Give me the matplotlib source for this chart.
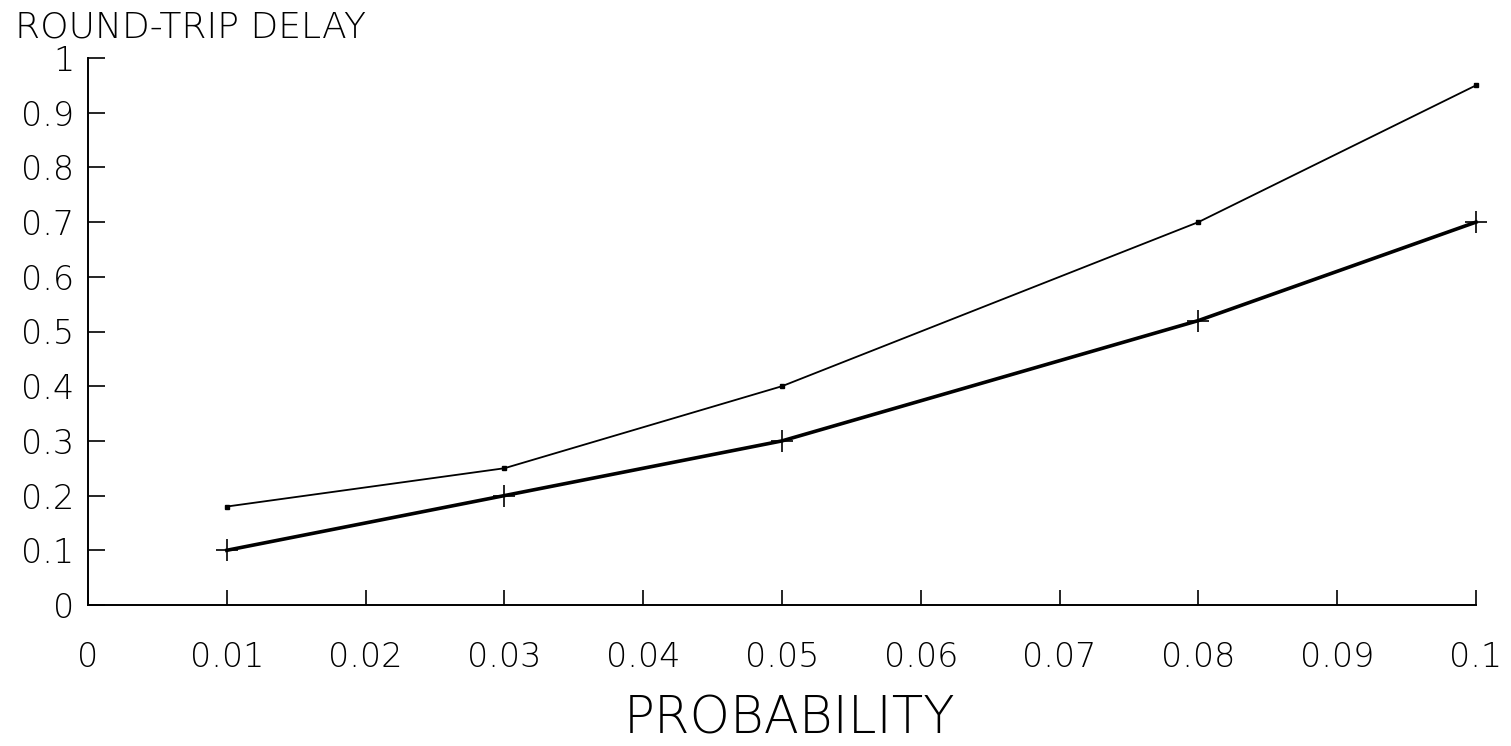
import matplotlib
matplotlib.use("Agg")
import matplotlib.pyplot as plt

# Data
probability = [0.01, 0.03, 0.05, 0.08, 0.10]
delay_upper = [0.18, 0.25, 0.40, 0.70, 0.95]
delay_lower = [0.10, 0.20, 0.30, 0.52, 0.70]
x_ticks = [0, 0.01, 0.02, 0.03, 0.04, 0.05, 0.06, 0.07, 0.08, 0.09, 0.10]
x_tick_labels = ["0", "0.01", "0.02", "0.03", "0.04", "0.05", "0.06", "0.07", "0.08", "0.09", "0.1"]
y_ticks = [0, 0.1, 0.2, 0.3, 0.4, 0.5, 0.6, 0.7, 0.8, 0.9, 1.0]
y_tick_labels = ["0", "0.1", "0.2", "0.3", "0.4", "0.5", "0.6", "0.7", "0.8", "0.9", "1"]

plt.rcParams['font.family'] = ['DejaVu Sans']
W, H = 1511, 746
fig = plt.figure(figsize=(W / 100, H / 100), dpi=100)
ax = fig.add_axes([88 / W, 1 - 605 / H, (1476 - 88) / W, (605 - 58) / H])

ax.plot(probability, delay_upper, color='black', linewidth=1.3,
        marker='s', markersize=3.5, clip_on=False)
ax.plot(probability, delay_lower, color='black', linewidth=2.6,
        marker='+', markersize=16, markeredgewidth=1.2, clip_on=False)

ax.set_xlim(0, 0.1)
ax.set_ylim(0, 1)
ax.set_xticks(x_ticks)
ax.set_xticklabels(x_tick_labels)
ax.set_yticks(y_ticks)
ax.set_yticklabels(y_tick_labels)

for s in ['top', 'right']:
    ax.spines[s].set_visible(False)
for s in ['left', 'bottom']:
    ax.spines[s].set_linewidth(1.4)

ax.tick_params(axis='x', direction='in', length=11, width=1.2, pad=26,
               labelsize=24)
ax.tick_params(axis='y', direction='in', length=12, width=1.2, pad=10,
               labelsize=24)
for lbl in ax.get_xticklabels() + ax.get_yticklabels():
    lbl.set_fontweight('light')

fig.text(15 / W, 1 - 37 / H, "ROUND-TRIP DELAY", fontsize=26,
         fontweight='light', ha='left', va='baseline')
fig.text(790 / W, 1 - 733 / H, "PROBABILITY", fontsize=37,
         fontweight='light', ha='center', va='baseline')

fig.savefig("out.png", dpi=100)
